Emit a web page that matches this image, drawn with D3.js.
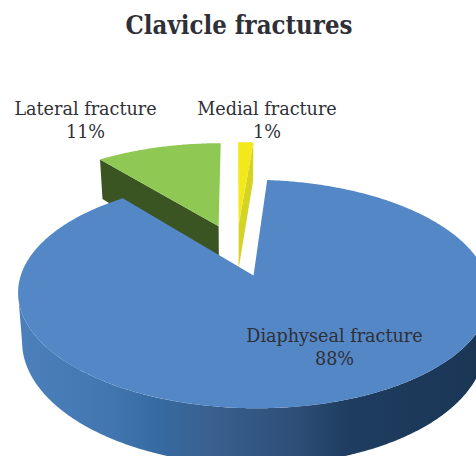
<!DOCTYPE html>
<html>
<head>
<meta charset="utf-8">
<script src="https://cdnjs.cloudflare.com/ajax/libs/d3/7.8.5/d3.min.js"></script>
<style>
  html, body { margin: 0; padding: 0; background: #fff; }
  svg { display: block; }
  text { font-family: "DejaVu Serif", serif; fill: #2f2f37; }
</style>
</head>
<body>
<div id="chart"></div>
<script>
(function () {

  // Data
  const categories = ["Diaphyseal fracture", "Lateral fracture", "Medial fracture"]
  const shares = [88, 10.7, 1.3]
  const title = "Clavicle fractures"

  // Look of each slice
  const faceColors = ["#5487c6", "#8fc853", "#f2e81a"]
  const wallColors = ["#3a6ea5", "#3a5422", "#d6d423"]
  const labelSpots = [[334.5, 342], [85.5, 115], [267, 115]]

  const width = 476
  const height = 456

  // Perspective of the tilted disc, fitted to the picture
  const cx = 236.5, cy = 249.8, fx = 224, fy = 103, tilt = 0.157
  const depth = 46, explode = 0.25, shrink = 0.0004
  const startDeg = 4.6

  const svg = d3.select("#chart").append("svg")
      .attr("width", width)
      .attr("height", height)

  const pie = d3.pie()
    .sort(null)
    .startAngle(startDeg * Math.PI / 180)
    .endAngle(startDeg * Math.PI / 180 + 2 * Math.PI)

  const slices = pie(shares).map((d, i) => {
    const mid = (d.startAngle + d.endAngle) / 2
    return {
      ...d,
      i,
      ox: explode * Math.sin(mid),
      oy: -explode * Math.cos(mid)
    }
  })

  // Disc coordinates (y towards the viewer) to screen, drop = how far below the top face
  function project(x, y, drop) {
    const w = 1 - tilt * y
    const d = drop || 0
    return [cx + fx * x * (1 - shrink * d) / w, cy + (fy * y + d) / w]
  }

  // Point on a slice rim at angle a (0 = top, clockwise)
  function rim(s, a, drop) {
    return project(s.ox + Math.sin(a), s.oy - Math.cos(a), drop)
  }

  function arcAngles(a0, a1) {
    const n = Math.max(2, Math.ceil(Math.abs(a1 - a0) / 0.01))
    return d3.range(n + 1).map(k => a0 + (a1 - a0) * k / n)
  }

  const line = d3.line()

  const defs = svg.append("defs")
  const grad = defs.append("linearGradient")
    .attr("id", "rimShade")
    .attr("gradientUnits", "userSpaceOnUse")
    .attr("x1", 19).attr("x2", 476).attr("y1", 0).attr("y2", 0)
  grad.selectAll("stop")
    .data([
      [0, "#4c80bc"], [0.2, "#4276b0"], [0.3, "#366ba2"], [0.42, "#39608f"],
      [0.6, "#2e4f78"], [0.72, "#1e3d60"], [1, "#1b3655"]
    ])
    .join("stop")
    .attr("offset", d => d[0])
    .attr("stop-color", d => d[1])

  const [blue, green, yellow] = slices

  // Green slice: wall of the left cut, then top face
  svg.append("path")
    .attr("d", line([
      rim(green, green.startAngle), project(green.ox, green.oy),
      project(green.ox, green.oy, depth), rim(green, green.startAngle, depth)
    ]) + "Z")
    .attr("fill", wallColors[1])

  svg.append("path")
    .attr("d", line([project(green.ox, green.oy)]
      .concat(arcAngles(green.startAngle, green.endAngle).map(a => rim(green, a)))) + "Z")
    .attr("fill", faceColors[1])

  // Yellow slice: wall of the right cut, then top face
  svg.append("path")
    .attr("d", line([
      rim(yellow, yellow.endAngle), project(yellow.ox, yellow.oy),
      project(yellow.ox, yellow.oy, depth), rim(yellow, yellow.endAngle, depth)
    ]) + "Z")
    .attr("fill", wallColors[2])

  svg.append("path")
    .attr("d", line([project(yellow.ox, yellow.oy)]
      .concat(arcAngles(yellow.startAngle, yellow.endAngle).map(a => rim(yellow, a)))) + "Z")
    .attr("fill", faceColors[2])

  // Blue slice: outer wall, then top face
  // the wall ends where the disc is widest, so its sides run along the silhouette
  const front = arcAngles(Math.PI * 0.55, Math.PI * 1.45)
  svg.append("path")
    .attr("d", line(front.map(a => rim(blue, a))
      .concat(front.slice().reverse().map(a => rim(blue, a, depth)))) + "Z")
    .attr("fill", "url(#rimShade)")

  svg.append("path")
    .attr("d", line([project(blue.ox, blue.oy)]
      .concat(arcAngles(blue.startAngle, blue.endAngle).map(a => rim(blue, a)))) + "Z")
    .attr("fill", faceColors[0])

  // Title
  svg.append("text")
    .attr("x", 239)
    .attr("y", 34)
    .attr("text-anchor", "middle")
    .style("font-family", '"DejaVu Serif Condensed", "DejaVu Serif", serif')
    .attr("font-size", 25.5)
    .attr("font-weight", "bold")
    .text(title)

  // Labels
  const labels = svg.selectAll("g.label")
    .data(slices)
    .join("g")
    .attr("class", "label")
    .attr("transform", (d, i) => "translate(" + labelSpots[i] + ")")
    .attr("text-anchor", "middle")
    .attr("font-size", 17.6)

  labels.append("text")
    .attr("y", 0)
    .text((d, i) => categories[i])

  labels.append("text")
    .attr("y", 23)
    .text(d => Math.round(d.value) + "%")

})();
</script>
</body>
</html>
